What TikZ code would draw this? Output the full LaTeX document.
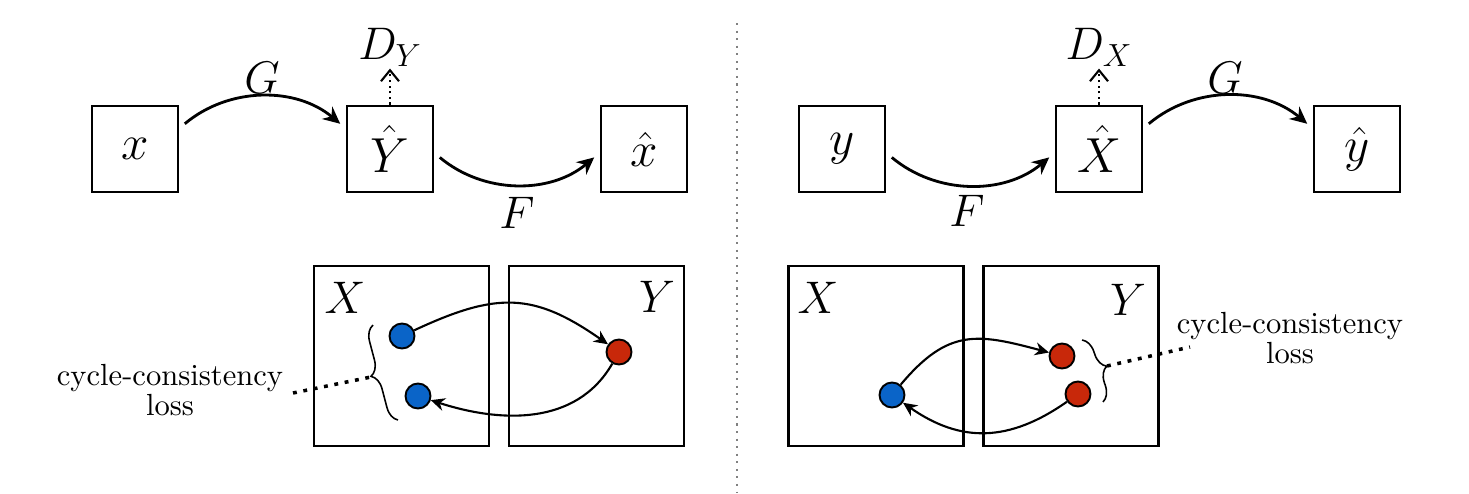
\RequirePackage{fix-cm}
\documentclass[tikz,border=0pt]{standalone}
\usepackage{amsmath}
\usepackage{tikz}
\usepackage{xcolor}
\usetikzlibrary{arrows.meta, positioning, decorations.pathreplacing}
\definecolor{cBlue}{RGB}{10,100,200}
\definecolor{cRed}{RGB}{200,40,10}
\tikzset{
	imgbox/.style   ={rectangle, draw=black, line width=1.6pt, minimum size=1.72cm, inner sep=0pt, font=\fontsize{28}{32}\selectfont},
	setbox/.style   ={rectangle, draw=black, line width=1.6pt, minimum width=3.5cm, minimum height=3.6cm, inner sep=0pt},
	sample/.style   ={circle, draw=black, line width=1.1pt, minimum size=0.5cm, inner sep=0pt},
	maparrow/.style ={-{Stealth[length=3.4mm, width=3.2mm]}, line width=1.6pt, shorten <=4pt, shorten >=4pt},
	cycarrow/.style ={-{Stealth[length=2.8mm, width=2.6mm]}, line width=1.2pt},
	discarrow/.style={-{Straight Barb[length=2.2mm, width=3.6mm]}, line width=1.2pt, dotted},
	% loss annotation
	lossline/.style ={line width=2pt, dash pattern=on 2.2pt off 3.8pt},
	lossbrace/.style={decorate, decoration={brace, amplitude=0.3cm}, line width=0.9pt},
	losstext/.style ={align=center, font=\fontsize{10}{9.8}\selectfont, scale=1.74, transform shape},
	sepline/.style  ={gray, line width=0.9pt, dash pattern=on 1.2pt off 3.1pt},
}

\begin{document}
\begin{tikzpicture}[font=\fontsize{26}{30}\selectfont]
	\useasboundingbox (0,0) rectangle (29.38,9.86);
	% left half: x -> Y^ -> x^
	\node[imgbox] (xL) at (2.70,6.88) {$x$};
	\node[imgbox] (YhL) at (7.80,6.88) {$\hat{Y}$};
	\node[imgbox] (xhL) at (12.88,6.88) {$\hat{x}$};
	\node[above=0.72cm of YhL, inner sep=1pt] (DY) {$D_Y$};
	\node (GL) at (5.24,8.30) {$G$};
	\node (FL) at (10.34,5.60) {$F$};
	\draw[maparrow] (xL.25) to[out=40,in=140] (YhL.155);
	\draw[maparrow] (YhL.-5) to[out=-40,in=-140] (xhL.-175);
	\draw[discarrow] (YhL.north) -- (DY.south);
	% right half: y -> X^ -> y^
	\node[imgbox] (yR) at (16.84,6.88) {$y$};
	\node[imgbox] (XhR) at (21.98,6.88) {$\hat{X}$};
	\node[imgbox] (yhR) at (27.14,6.88) {$\hat{y}$};
	\node[above=0.72cm of XhR, inner sep=1pt] (DX) {$D_X$};
	\node (FR) at (19.34,5.64) {$F$};
	\node (GR) at (24.50,8.30) {$G$};
	\draw[maparrow] (yR.-5) to[out=-40,in=-140] (XhR.-175);
	\draw[maparrow] (XhR.25) to[out=40,in=140] (yhR.155);
	\draw[discarrow] (XhR.north) -- (DX.south);
	% separator
	\draw[sepline] (14.74,9.40) -- (14.74,0);
	% left domains
	\node[setbox] (XsL) at (8.03,2.74) {};
	\node[setbox] (YsL) at (11.93,2.74) {};
	\node (labXL) at (6.90,3.90) {$X$};
	\node (labYL) at (13.14,3.92) {$Y$};
	\node[sample, fill=cBlue] (a1) at (8.04,3.14) {};
	\node[sample, fill=cBlue] (a2) at (8.36,1.94) {};
	\node[sample, fill=cRed] (c1) at (12.38,2.82) {};
	\draw[cycarrow] (a1) to[out=25,in=145,looseness=1.2] (c1);
	\draw[cycarrow] (c1) to[out=-120,in=-18] (a2);
	\draw[lossbrace] (7.96,1.46) -- (7.46,3.36);
	\coordinate (tipL) at (7.42,2.32);
	\coordinate (startL) at (5.86,2.00);
	\node[losstext] (lossL) at (3.40,2.06) {cycle-consistency\\loss};
	\draw[lossline] (startL) -- (tipL);
	% right domains
	\node[setbox] (XsR) at (17.52,2.74) {};
	\node[setbox] (YsR) at (21.42,2.74) {};
	\node (labXR) at (16.36,3.90) {$X$};
	\node (labYR) at (22.56,3.86) {$Y$};
	\node[sample, fill=cBlue] (bR) at (17.84,1.96) {};
	\node[sample, fill=cRed] (d1) at (21.24,2.74) {};
	\node[sample, fill=cRed] (d2) at (21.56,1.98) {};
	\draw[cycarrow] (bR) to[out=50,in=165,looseness=1.25] (d1);
	\draw[cycarrow] (d2) to[out=-145,in=-35,looseness=1.1] (bR);
	\draw[lossbrace] (21.64,3.06) -- (22.06,1.82);
	\coordinate (tipR) at (22.14,2.54);
	\coordinate (endR) at (23.80,2.92);
	\node[losstext] (lossR) at (25.80,3.10) {cycle-consistency\\loss};
	\draw[lossline] (tipR) -- (endR);
\end{tikzpicture}
\end{document}
